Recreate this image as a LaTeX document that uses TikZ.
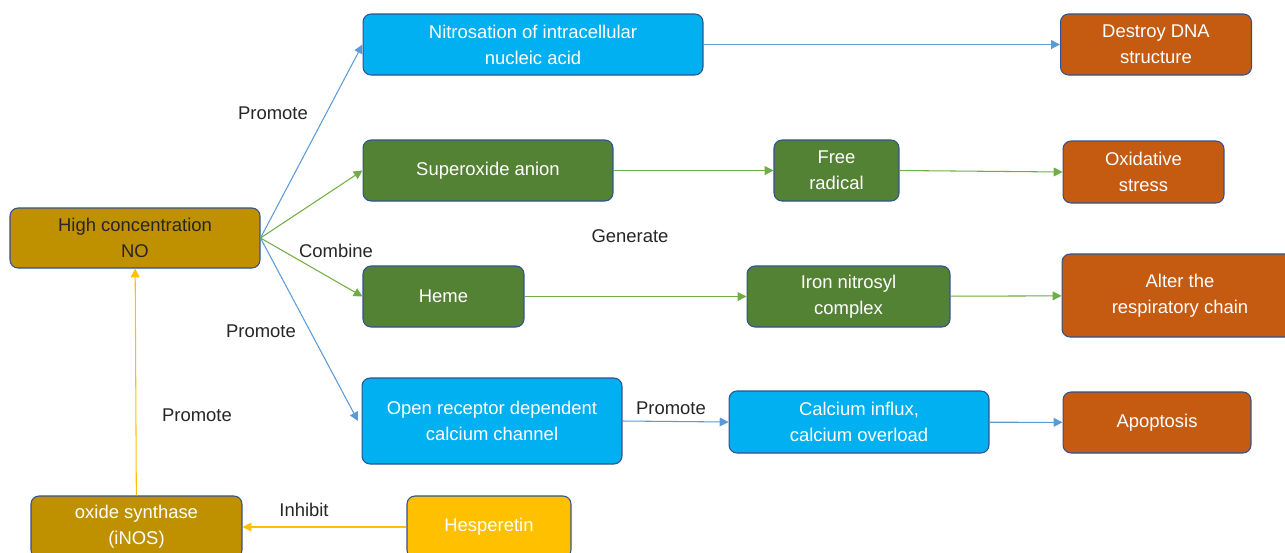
\documentclass[tikz,border=0pt]{standalone}
\usepackage{fontspec}
\setmainfont{Liberation Sans}
\usepackage{tikz}
\usetikzlibrary{arrows.meta}

\definecolor{nobrown}{HTML}{BF9000}
\definecolor{boxblue}{HTML}{00B0F0}
\definecolor{boxgreen}{HTML}{548235}
\definecolor{boxorange}{HTML}{C55A11}
\definecolor{boxyellow}{HTML}{FFC000}
\definecolor{edgeblue}{HTML}{2F528F}
\definecolor{lineblue}{HTML}{5B9BD5}
\definecolor{linegreen}{HTML}{70AD47}
\definecolor{labelgray}{HTML}{262626}

\tikzset{
  box/.style={draw=edgeblue, line width=0.6pt, rounded corners=0.16cm, align=center,
    inner sep=0pt, text=white, font=\fontsize{10.5}{14.7}\selectfont},
  lab/.style={text=labelgray, font=\fontsize{10.5}{13}\selectfont},
  bluearr/.style={draw=lineblue, line width=0.6pt, -{Triangle[length=5pt,width=5pt]}},
  greenarr/.style={draw=linegreen, line width=0.6pt, -{Triangle[length=5pt,width=5pt]}},
  yellowarr/.style={draw=boxyellow, line width=0.6pt, -{Triangle[length=5pt,width=5pt]}}
}

\begin{document}
\begin{tikzpicture}[x=0.02cm, y=-0.02cm]
\useasboundingbox (0,0) rectangle (1285,552);
\node [box, fill=nobrown, text=labelgray, minimum width=5cm, minimum height=1.2cm] (no) at (135,238) {High concentration\\NO};
\node [box, fill=boxblue, minimum width=6.8cm, minimum height=1.22cm] (nitro) at (533,44.5) {Nitrosation of intracellular\\nucleic acid};
\node [box, fill=boxorange, minimum width=3.82cm, minimum height=1.22cm] (dna) at (1156,44.5) {Destroy DNA\\structure};
\node [box, fill=boxgreen, minimum width=5cm, minimum height=1.22cm] (super) at (488,170.5) {Superoxide anion};
\node [box, fill=boxgreen, minimum width=2.5cm, minimum height=1.22cm] (free) at (836.5,170.5) {Free\\radical};
\node [box, fill=boxorange, minimum width=3.22cm, minimum height=1.24cm] (oxid) at (1143.5,172) {Oxidative\\stress};
\node [box, fill=boxgreen, minimum width=3.22cm, minimum height=1.22cm] (heme) at (443.5,296.5) {Heme};
\node [box, fill=boxgreen, minimum width=4.06cm, minimum height=1.22cm] (iron) at (848.5,296.5) {Iron nitrosyl\\complex};
\node [box, fill=boxorange, minimum width=4.72cm, minimum height=1.66cm] (alter) at (1180,295.5) {Alter the\\respiratory chain};
\node [box, fill=boxblue, minimum width=5.2cm, minimum height=1.72cm] (open) at (492,421) {Open receptor dependent\\calcium channel};
\node [box, fill=boxblue, minimum width=5.2cm, minimum height=1.24cm] (calc) at (859,422) {Calcium influx,\\calcium overload};
\node [box, fill=boxorange, minimum width=3.76cm, minimum height=1.22cm] (apop) at (1157,422.5) {Apoptosis};
\node [box, fill=nobrown, minimum width=4.22cm, minimum height=1.24cm] (inos) at (136.5,527) {oxide synthase\\(iNOS)};
\node [box, fill=boxyellow, minimum width=3.28cm, minimum height=1.24cm] (hesp) at (489,527) {Hesperetin};
\draw [bluearr] (no.east) -- (nitro.west);
\draw [greenarr] (no.east) -- (super.west);
\draw [greenarr] (no.east) -- (heme.west);
\draw [bluearr] (no.east) -- ([xshift=-2]open.west);
\draw [bluearr] (nitro) -- (dna);
\draw [greenarr] (super) -- (free);
\draw [greenarr] (free.east) -- (oxid.west);
\draw [greenarr] (heme) -- (iron);
\draw [greenarr] (iron) -- (alter);
\draw [bluearr] (open.east) -- (calc.west);
\draw [bluearr] (calc) -- (apop);
\draw [yellowarr] (hesp) -- (inos);
\draw [yellowarr] (inos) -- (no);
\node [lab] (l1) at (273,113) {Promote};
\node [lab] (l2) at (336,251) {Combine};
\node [lab] (l3) at (261,331) {Promote};
\node [lab] (l4) at (630,236) {Generate};
\node [lab] (l5) at (197,415) {Promote};
\node [lab] (l6) at (304,510) {Inhibit};
\node [lab] (l7) at (671,408) {Promote};
\end{tikzpicture}
\end{document}
